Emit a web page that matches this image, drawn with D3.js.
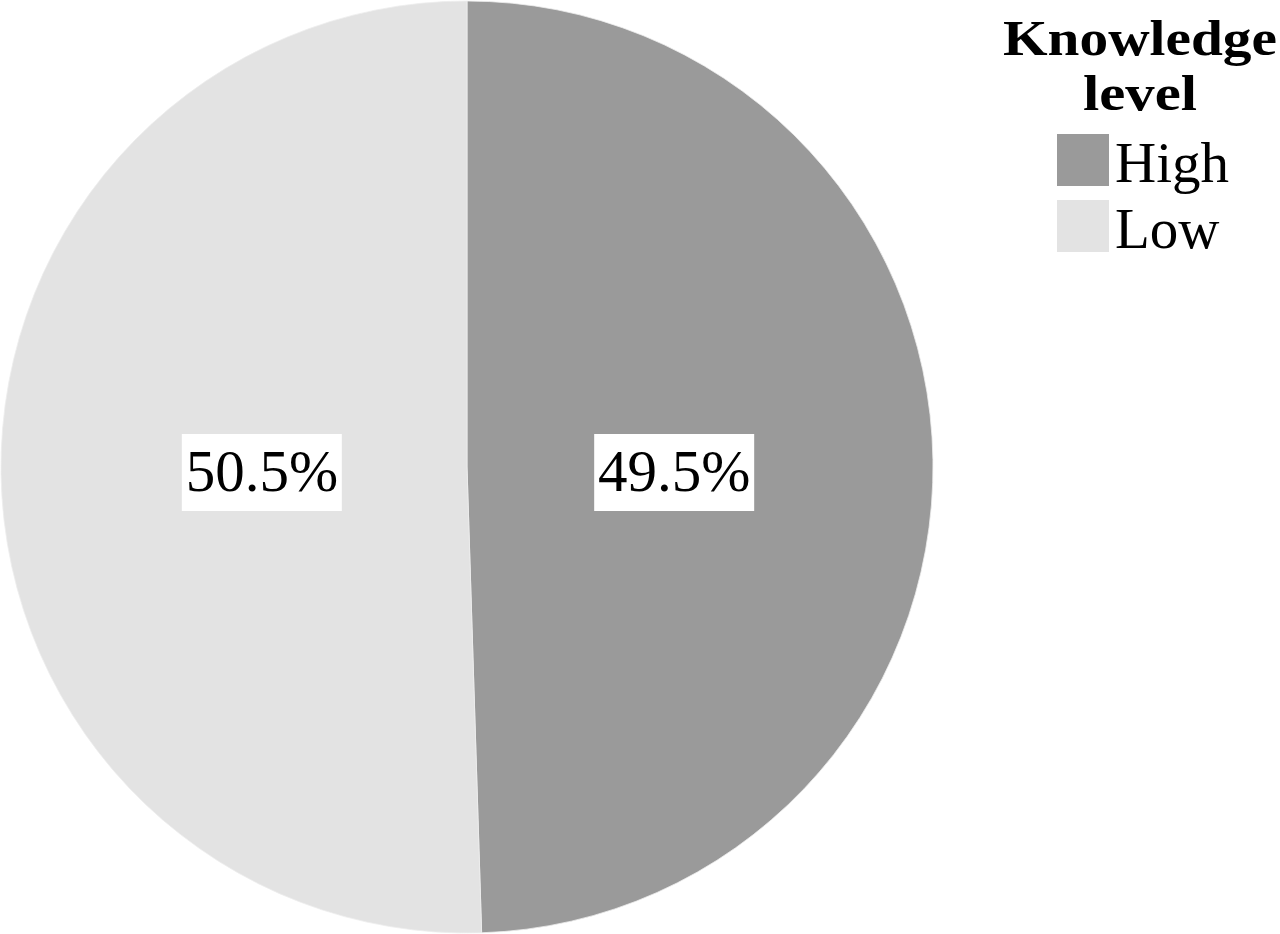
<!DOCTYPE html>
<meta charset="utf-8">
<style>
body { margin: 0; background: #fff; }
svg { display: block; }
.lbl { font-family: "Liberation Serif", "Times New Roman", serif; }
</style>
<body>
<div id="chart"></div>
<script src="https://cdn.jsdelivr.net/npm/d3@7/dist/d3.min.js"></script>
<script>
// data
var categories = ["High", "Low"];
var shares = [49.5, 50.5];
var colors = ["#9a9a9a", "#e3e3e3"];
var legendTitle = ["Knowledge", "level"];

var width = 1280, height = 934;
var cx = 467, cy = 467, radius = 466;

var svg = d3.select("#chart").append("svg")
  .attr("width", width)
  .attr("height", height);

var data = categories.map(function(c, i) { return {cat: c, value: shares[i], color: colors[i]}; });

var pie = d3.pie().sort(null).value(function(d) { return d.value; });
var arc = d3.arc().innerRadius(0).outerRadius(radius);
var labelArc = d3.arc().innerRadius(0).outerRadius(radius * 0.885);

var g = svg.append("g").attr("transform", "translate(" + cx + "," + cy + ")");

var slices = g.selectAll(".slice")
  .data(pie(data))
  .enter().append("g").attr("class", "slice");

slices.append("path")
  .attr("d", arc)
  .attr("fill", function(d) { return d.data.color; })
  .attr("stroke", "#eeeeee")
  .attr("stroke-width", 0.8);

// labels with white boxes, both sit on one line
slices.each(function(d) {
  var p = labelArc.centroid(d);
  var ly = 4;
  var s = d3.select(this);
  s.append("rect")
    .attr("x", p[0] - 79)
    .attr("y", ly - 37)
    .attr("width", 160)
    .attr("height", 77)
    .attr("fill", "#fff");
  s.append("text")
    .attr("class", "lbl")
    .attr("x", p[0] + 1)
    .attr("y", ly + 20)
    .attr("text-anchor", "middle")
    .attr("font-size", 59)
    .attr("fill", "#000")
    .text(d3.format(".1f")(d.data.value) + "%");
});

// legend
var lg = svg.append("g");
var titleWidths = [274, 114];
lg.selectAll(".ttl")
  .data(legendTitle)
  .enter().append("text")
  .attr("class", "lbl")
  .attr("x", function(d, i) { return 1140 - titleWidths[i] / 2; })
  .attr("y", function(d, i) { return 55 + i * 55; })
  .attr("textLength", function(d, i) { return titleWidths[i]; })
  .attr("lengthAdjust", "spacingAndGlyphs")
  .attr("font-size", 50)
  .attr("font-weight", "bold")
  .text(function(d) { return d; });

var items = lg.selectAll(".item")
  .data(data)
  .enter().append("g")
  .attr("transform", function(d, i) { return "translate(1057," + (134 + i * 66) + ")"; });

items.append("rect")
  .attr("width", 52)
  .attr("height", 52)
  .attr("fill", function(d) { return d.color; });

items.append("text")
  .attr("class", "lbl")
  .attr("x", 58)
  .attr("y", 48)
  .attr("font-size", 57)
  .text(function(d) { return d.cat; });
</script>
</body>
